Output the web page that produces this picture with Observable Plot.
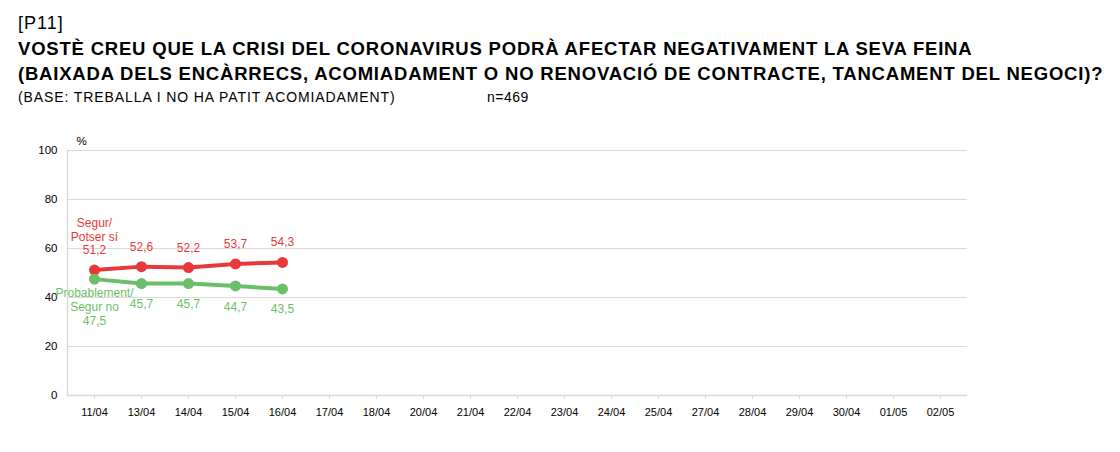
<!DOCTYPE html>
<html>
<head>
<meta charset="utf-8">
<script src="https://cdn.jsdelivr.net/npm/d3@7"></script>
<script src="https://cdn.jsdelivr.net/npm/@observablehq/plot@0.6"></script>
<style>
  body { margin: 0; background: #fff; font-family: "Liberation Sans", Arial, sans-serif; color: #000; }
  #header { position: relative; height: 125px; width: 1120px; }
  #header div { position: absolute; white-space: nowrap; }
  .p { left: 18px; top: 13px; font-size: 18px; letter-spacing: 1px; }
  .t1 { left: 18px; top: 38px; font-size: 18.5px; font-weight: bold; letter-spacing: 0.8px; }
  .t2 { left: 18px; top: 63px; font-size: 18.5px; font-weight: bold; letter-spacing: 0.8px; }
  .b { left: 18px; top: 89px; font-size: 14px; letter-spacing: 0.9px; }
  .n { left: 487px; top: 89px; font-size: 14px; letter-spacing: 0.5px; }
</style>
</head>
<body>
<div id="header">
  <div class="p">[P11]</div>
  <div class="t1">VOSTÈ CREU QUE LA CRISI DEL CORONAVIRUS PODRÀ AFECTAR NEGATIVAMENT LA SEVA FEINA</div>
  <div class="t2">(BAIXADA DELS ENCÀRRECS, ACOMIADAMENT O NO RENOVACIÓ DE CONTRACTE, TANCAMENT DEL NEGOCI)?</div>
  <div class="b">(BASE: TREBALLA I NO HA PATIT ACOMIADAMENT)</div>
  <div class="n">n=469</div>
</div>
<div id="chart"></div>
<script>
const dates = ["11/04","13/04","14/04","15/04","16/04","17/04","18/04","20/04","21/04","22/04","23/04","24/04","25/04","27/04","28/04","29/04","30/04","01/05","02/05"];
const surveyDates = ["11/04","13/04","14/04","15/04","16/04"];
const seguroSi = [51.2, 52.6, 52.2, 53.7, 54.3];
const seguroNo = [47.5, 45.7, 45.7, 44.7, 43.5];
const seriesNames = ["Segur/\nPotser sí", "Probablement/\nSegur no"];
const yTicks = [0, 20, 40, 60, 80, 100];

const RED = "#e8393a";
const GREEN = "#6cbf69";
const fmt = v => v.toFixed(1).replace(".", ",");

const redData = surveyDates.map((d, i) => ({date: d, value: seguroSi[i], label: (i === 0 ? seriesNames[0] + "\n" : "") + fmt(seguroSi[i])}));
const greenData = surveyDates.map((d, i) => ({date: d, value: seguroNo[i], label: (i === 0 ? seriesNames[1] + "\n" : "") + fmt(seguroNo[i])}));

const chart = Plot.plot({
  width: 1120,
  height: 327,
  marginLeft: 67,
  marginRight: 153,
  marginTop: 25,
  marginBottom: 57,
  style: { fontFamily: "'Liberation Sans', Arial, sans-serif", fontSize: "11px", color: "#000", background: "#fff" },
  x: { type: "point", domain: dates, padding: 0.5, label: null },
  y: { domain: [0, 100], label: null },
  marks: [
    Plot.gridY(yTicks, { stroke: "#d9d9d9", strokeOpacity: 1, strokeWidth: 1.2 }),
    Plot.frame({ anchor: "left", stroke: "#d9d9d9", strokeWidth: 1.5 }),
    Plot.ruleY([0], { stroke: "#d9d9d9", strokeWidth: 1.5 }),
    Plot.axisY(yTicks, { tickSize: 0, tickPadding: 10, fontSize: 11.5, fill: "#000" }),
    Plot.axisX({ tickSize: 4, stroke: "#d9d9d9", tickPadding: 9, fontSize: 11, fill: "#000" }),
    Plot.text(["%"], { frameAnchor: "top-left", dx: 9, dy: -9, lineAnchor: "middle", textAnchor: "start", fontSize: 11.5, fill: "#000" }),
    Plot.line(redData, { x: "date", y: "value", stroke: RED, strokeWidth: 4 }),
    Plot.dot(redData, { x: "date", y: "value", fill: RED, r: 5.5 }),
    Plot.line(greenData, { x: "date", y: "value", stroke: GREEN, strokeWidth: 4 }),
    Plot.dot(greenData, { x: "date", y: "value", fill: GREEN, r: 5.5 }),
    Plot.text(redData, { x: "date", y: "value", text: "label", fill: RED, fontSize: 12, lineAnchor: "bottom", dy: -16, lineHeight: 1.13 }),
    Plot.text(greenData.slice(0, 1), { x: "date", y: "value", text: "label", fill: GREEN, fontSize: 12, lineAnchor: "top", dy: 8, lineHeight: 1.17 }),
    Plot.text(greenData.slice(1), { x: "date", y: "value", text: "label", fill: GREEN, fontSize: 12, lineAnchor: "top", dy: 16 })
  ]
});
document.getElementById("chart").appendChild(chart);
</script>
</body>
</html>
